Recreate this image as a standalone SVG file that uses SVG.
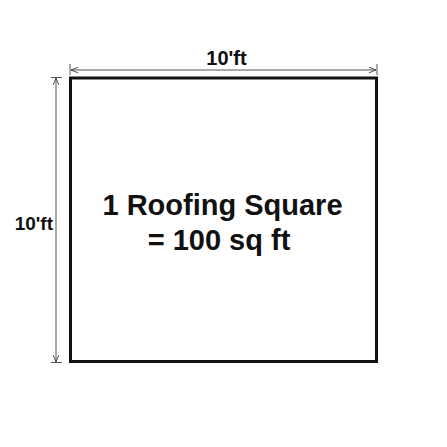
<svg xmlns="http://www.w3.org/2000/svg" width="447" height="447" viewBox="0 0 447 447">
<style>
.t{font-family:"Liberation Sans",Arial,sans-serif;font-weight:bold;fill:#111}
.dim{stroke:#555;stroke-width:1;fill:none}
</style>
<defs>
<marker id="ah" viewBox="0 0 10 10" refX="10" refY="5" markerWidth="7" markerHeight="7" orient="auto-start-reverse" markerUnits="userSpaceOnUse">
<path d="M0,1 L10,5 L0,9" fill="none" stroke="#333" stroke-width="1.2"/>
</marker>
</defs>
<rect width="447" height="447" fill="#fff"/>
<g id="connectors">
<line class="dim" x1="70" y1="64" x2="70" y2="75"/>
<line class="dim" x1="377" y1="64" x2="377" y2="75"/>
<line class="dim" x1="71" y1="70" x2="376" y2="70" marker-start="url(#ah)" marker-end="url(#ah)"/>
<line class="dim" x1="51" y1="77.5" x2="62" y2="77.5"/>
<line class="dim" x1="51" y1="362.5" x2="62" y2="362.5"/>
<line class="dim" x1="56" y1="78" x2="56" y2="362" marker-start="url(#ah)" marker-end="url(#ah)"/>
</g>
<g id="square">
<rect x="70.5" y="78" width="306" height="283.5" fill="#fff" stroke="#111" stroke-width="3"/>
<text class="t" x="222.5" y="215" font-size="29" text-anchor="middle">1 Roofing Square</text>
<text class="t" x="219" y="249.5" font-size="29" text-anchor="middle">= 100 sq ft</text>
</g>
<g id="label-top">
<text class="t" x="226.5" y="65" font-size="20" text-anchor="middle">10'ft</text>
</g>
<g id="label-left">
<text class="t" x="53" y="229.5" font-size="19" text-anchor="end">10'ft</text>
</g>
</svg>
